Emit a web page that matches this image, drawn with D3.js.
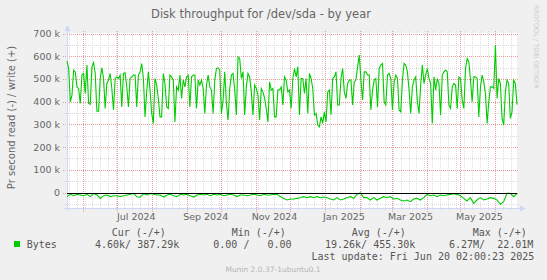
<!DOCTYPE html>
<html lang="en">
<head>
<meta charset="UTF-8">
<title>Disk throughput for /dev/sda - by year</title>
<style>
  html, body { margin: 0; padding: 0; background: #f0f0f0; }
  svg { display: block; }
  .legend { font-family: 'DejaVu Sans Mono', monospace; font-size: 10px; fill: #555; white-space: pre; }
</style>
</head>
<body>
<svg width="547" height="280"></svg>
<script src="https://d3js.org/d3.v7.min.js"></script>
<script>
// write (+) in kB/s, evenly spaced over the year
const writeKB = [
  578,546,399,429,539,531,465,458,392,517,
  524,436,561,392,388,553,572,524,358,358,
  502,549,502,370,480,495,524,458,363,502,
  509,502,517,377,524,527,465,377,502,509,
  517,517,377,517,531,568,502,333,443,531,
  451,348,304,502,473,414,333,333,524,480,
  377,370,517,509,495,311,465,451,517,414,
  495,
  465,509,517,377,509,517,517,370,495,473,
  495,458,348,473,517,465,451,348,495,546,
  549,539,348,407,531,392,319,458,517,524,
  451,341,597,590,502,531,341,465,524,509,
  443,341,473,458,429,319,458,443,414,370,
  311,487,451,458,333,333,451,451,465,385,
  509,495,443,451,370,502,546,509,553,341,
  502,502,436,502,348,524,502,458,341,348,
  297,289,333,304,355,311,443,451,341,502,
  509,531,385,385,502,546,443,414,480,495,
  495,385,487,495,553,605,495,407,531,531,
  517,517,363,451,495,502,377,546,561,568,
  399,385,517,524,502,363,487,517,502,363,
  355,495,568,561,531,451,348,465,495,509,
  399,348,473,561,480,517,546,502,480,304,
  509,451,502,480,341,517,531,539,531,385,
  370,465,480,473,370,509,502,407,370,546,
  590,575,495,399,509,509,502,333,465,517,
  487,436,304,399,465,465,458,648,414,502,
  480,326,297,443,495,480,326,355,495,480,
  387
];

// read (-) in kB/s, drawn below zero
const readKB = [
  18,8,14,8,11,14,8,18,4,11,
  26,14,11,18,14,14,18,14,11,8,
  4,20,20,5,11,4,8,11,11,20,
  11,8,14,18,8,11,8,14,20,11,
  8,11,8,14,8,11,8,14,11,8,
  11,18,11,11,14,11,8,11,14,8,
  11,11,8,8,18,26,33,
  28.6,28.6,25.7,22.7,18.3,22.7,18.3,22.7,18.3,22.7,
  19.8,22.7,28.6,33,22.7,33,28.6,22.7,18.3,25.7,
  8.1,2.2,22.7,22.7,33,22.7,33,25.7,18.3,22.7,
  18.3,28.6,25.7,33,37.4,33,40.3,28.6,25.7,33,
  22.7,8.1,13.9,11,18.3,11,13.9,11,8.1,5.1,
  8.1,13.9,25.7,37.4,22.7,47.6,33,22.7,33,28.6,
  22.7,25.7,33,52,40.3,3.7,3.7,18.3,4.6
];

const startTime = new Date("2024-05-17T10:00:00Z");
const endTime = new Date("2025-06-20T02:00:23Z");

const yTickValues = [0, 100000, 200000, 300000, 400000, 500000, 600000, 700000];
const yTickLabels = ["0", "100 k", "200 k", "300 k", "400 k", "500 k", "600 k", "700 k"];
const xTickLabels = ["Jul 2024", "Sep 2024", "Nov 2024", "Jan 2025", "Mar 2025", "May 2025"];

const titleText = "Disk throughput for /dev/sda - by year";
const yTitle = "Pr second read (-) / write (+)";
const seriesName = "Bytes";
const legendHeaders = ["Cur (-/+)", "Min (-/+)", "Avg (-/+)", "Max (-/+)"];
const legendValues = ["4.60k/ 387.29k", "0.00 /   0.00", "19.26k/ 455.30k", "6.27M/  22.01M"];
const lastUpdate = "Last update: Fri Jun 20 02:00:23 2025";
const versionText = "Munin 2.0.37-1ubuntu0.1";

// plot box
const plotLeft = 67, plotRight = 517, plotTop = 33.5, plotBottom = 208.5;

const svg = d3.select("svg");

const x = d3.scaleUtc().domain([startTime, endTime]).range([plotLeft, plotRight]);
const y = d3.scaleLinear().domain([-70400, 700000]).range([plotBottom, plotTop]);

const px = v => Math.round(v) + 0.5;

svg.append("rect")
  .attr("x", plotLeft).attr("y", 33).attr("width", plotRight - plotLeft).attr("height", 175)
  .attr("fill", "#fff");

// minor grid: weeks and 50k
const grid = svg.append("g").attr("stroke-dasharray", "1,1").attr("stroke-width", 1);
const minorColor = "#dcdcdc", majorColor = "#e89c9c";
d3.utcSunday.range(startTime, endTime).forEach(d => {
  grid.append("line").attr("x1", px(x(d))).attr("x2", px(x(d)))
    .attr("y1", 31).attr("y2", 211).attr("stroke", minorColor);
});
d3.range(-50000, 700001, 50000).filter(v => v % 100000 !== 0).forEach(v => {
  grid.append("line").attr("x1", 64).attr("x2", 519)
    .attr("y1", px(y(v))).attr("y2", px(y(v))).attr("stroke", minorColor);
});
// major grid: months and 100k
d3.utcMonth.range(startTime, endTime).forEach(d => {
  grid.append("line").attr("x1", px(x(d))).attr("x2", px(x(d)))
    .attr("y1", 31).attr("y2", 212).attr("stroke", majorColor);
});
yTickValues.forEach(v => {
  grid.append("line").attr("x1", 63).attr("x2", 519)
    .attr("y1", px(y(v))).attr("y2", px(y(v))).attr("stroke", majorColor);
});

// axes with arrows
const axisColor = "#cfd6f8";
svg.append("line").attr("x1", 64).attr("x2", 521).attr("y1", plotBottom).attr("y2", plotBottom)
  .attr("stroke", axisColor);
svg.append("path").attr("d", `M520,${plotBottom - 3}L526,${plotBottom}L520,${plotBottom + 3}Z`).attr("fill", axisColor);
svg.append("line").attr("x1", plotLeft + 0.5).attr("x2", plotLeft + 0.5).attr("y1", 211).attr("y2", 30)
  .attr("stroke", axisColor);
svg.append("path").attr("d", `M${plotLeft - 2.5},31L${plotLeft + 0.5},25L${plotLeft + 3.5},31Z`).attr("fill", axisColor);

// series
const writeLine = d3.line()
  .x((d, i) => x(new Date(+startTime + i * (endTime - startTime) / (writeKB.length - 1))))
  .y(d => y(d * 1000));
const readLine = d3.line()
  .x((d, i) => x(new Date(+startTime + i * (endTime - startTime) / (readKB.length - 1))))
  .y(d => y(-d * 1000));

svg.append("path").datum(readKB).attr("d", readLine)
  .attr("fill", "none").attr("stroke", "#00cc00").attr("stroke-width", 1.1);
svg.append("path").datum(writeKB).attr("d", writeLine)
  .attr("fill", "none").attr("stroke", "#00cc00").attr("stroke-width", 1.1);

// zero rule
svg.append("line").attr("x1", plotLeft).attr("x2", plotRight).attr("y1", px(y(0))).attr("y2", px(y(0)))
  .attr("stroke", "#000");

// y labels
const yAxis = svg.append("g").attr("transform", `translate(${plotLeft},0)`)
  .call(d3.axisLeft(y).tickValues(yTickValues).tickFormat((d, i) => yTickLabels[i]).tickSize(0).tickPadding(7));
yAxis.select(".domain").remove();
yAxis.selectAll("text").attr("font-family", "'DejaVu Sans', sans-serif").attr("font-size", 9.5).attr("fill", "#666");

// x labels, centred on their month
const parseMonth = d3.utcParse("%b %Y");
const labelDates = xTickLabels.map(s => {
  const m = parseMonth(s);
  return new Date((+m + +d3.utcMonth.offset(m, 1)) / 2 + 20 * 3600e3);
});
const xAxis = svg.append("g").attr("transform", `translate(0,${plotBottom})`)
  .call(d3.axisBottom(x).tickValues(labelDates).tickFormat((d, i) => xTickLabels[i]).tickSize(0).tickPadding(5));
xAxis.select(".domain").remove();
xAxis.selectAll("text").attr("font-family", "'DejaVu Sans', sans-serif").attr("font-size", 9.5).attr("fill", "#666");

// titles
svg.append("text").attr("x", 261).attr("y", 18).attr("text-anchor", "middle")
  .attr("font-family", "'DejaVu Sans', sans-serif").attr("font-size", 11.5).attr("fill", "#666")
  .text(titleText);
svg.append("text").attr("transform", "translate(15,117.5) rotate(-90)").attr("text-anchor", "middle")
  .attr("font-family", "'DejaVu Sans', sans-serif").attr("font-size", 10).attr("fill", "#666")
  .text(yTitle);
svg.append("text").attr("transform", "translate(533.5,5) rotate(90)")
  .attr("font-family", "'DejaVu Sans', sans-serif").attr("font-size", 6.5).attr("fill", "#cccccc")
  .text("RRDTOOL / TOBI OETIKER");

// legend
const headerX = [111.7, 231.7, 351.7, 472.7];
const valueX = [95, 213.3, 325, 449];
legendHeaders.forEach((t, i) => {
  svg.append("text").attr("class", "legend").attr("x", headerX[i]).attr("y", 236).text(t);
});
svg.append("rect").attr("x", 14).attr("y", 241).attr("width", 6).attr("height", 6).attr("fill", "#00cc00");
svg.append("text").attr("class", "legend").attr("x", 26.7).attr("y", 248).text(seriesName);
legendValues.forEach((t, i) => {
  svg.append("text").attr("class", "legend").attr("x", valueX[i]).attr("y", 248).text(t);
});
svg.append("text").attr("class", "legend").attr("x", 311.5).attr("y", 260).text(lastUpdate);
svg.append("text").attr("x", 273).attr("y", 272).attr("text-anchor", "middle")
  .attr("font-family", "'DejaVu Sans', sans-serif").attr("font-size", 7.5).attr("fill", "#b4b4b4")
  .text(versionText);
</script>
</body>
</html>
